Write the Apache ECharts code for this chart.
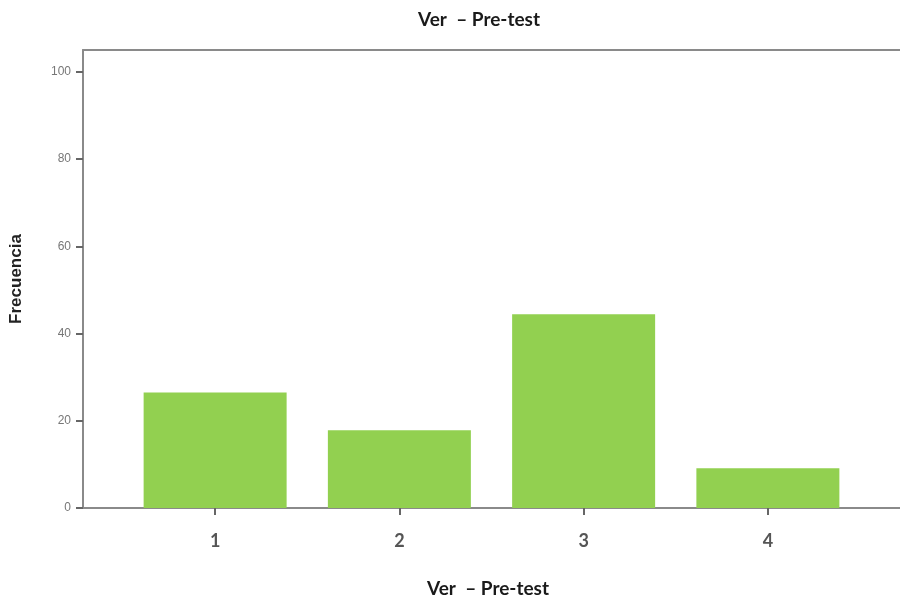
<!DOCTYPE html>
<html>
<head>
<meta charset="utf-8">
<script src="https://cdn.jsdelivr.net/npm/echarts@6/dist/echarts.min.js"></script>
<style>html,body{margin:0;padding:0;background:#fff}#c{width:900px;height:598px}</style>
</head>
<body>
<div id="c"></div>
<script>
const titleText = 'Ver  \u2013 Pre-test';
const xAxisTitle = 'Ver  \u2013 Pre-test';
const yAxisTitle = 'Frecuencia';
const categories = ['1', '2', '3', '4'];
const frecuencia = [26.5, 17.8, 44.4, 9.1];
const yTicks = [0, 20, 40, 60, 80, 100];

const chart = echarts.init(document.getElementById('c'));
const axisGray = '#8a8a8a';
const yMax = 105;
chart.setOption({
  backgroundColor: '#fff',
  animation: false,
  title: [
    { text: titleText, left: 474, top: 5, textAlign: 'center',
      textStyle: { fontFamily: 'Lato', fontWeight: 'bold', fontSize: 19, color: '#1a1a1a' } },
    { text: xAxisTitle, left: 483, top: 574, textAlign: 'center',
      textStyle: { fontFamily: 'Lato', fontWeight: 'bold', fontSize: 19, color: '#1a1a1a' } }
  ],
  grid: [
    { left: 83, right: 0, top: 50, bottom: 90 },
    { left: 123, right: 40, top: 50, bottom: 90 }
  ],
  xAxis: [
    { gridIndex: 0, type: 'value', min: 0, max: 1, position: 'bottom',
      axisLine: { show: true, lineStyle: { color: axisGray, width: 2 } },
      axisTick: { show: false }, axisLabel: { show: false }, splitLine: { show: false } },
    { gridIndex: 0, type: 'value', min: 0, max: 1, position: 'top',
      axisLine: { show: true, lineStyle: { color: axisGray, width: 2 } },
      axisTick: { show: false }, axisLabel: { show: false }, splitLine: { show: false } },
    { gridIndex: 1, type: 'category', data: categories, position: 'bottom',
      axisLine: { show: false },
      axisTick: { show: true, alignWithLabel: true, length: 7, lineStyle: { color: '#666', width: 2 } },
      axisLabel: { margin: 24, fontFamily: 'Lato', fontWeight: 'bold', fontSize: 18, color: '#555' } }
  ],
  yAxis: [
    { gridIndex: 0, type: 'value', min: 0, max: yMax, interval: 20,
      name: yAxisTitle, nameLocation: 'middle', nameGap: 58, nameRotate: 90,
      nameTextStyle: { fontFamily: 'Arial', fontWeight: 'bold', fontSize: 17, color: '#222' },
      axisLine: { show: true, lineStyle: { color: axisGray, width: 2 } },
      axisTick: { show: true, inside: false, length: 7, customValues: yTicks, lineStyle: { color: '#666', width: 2 } },
      axisLabel: { customValues: yTicks, margin: 12, fontFamily: 'Arial', fontSize: 12, color: '#777' },
      splitLine: { show: false } },
    { gridIndex: 1, type: 'value', min: 0, max: yMax, show: false, splitLine: { show: false } }
  ],
  series: [
    { type: 'bar', xAxisIndex: 2, yAxisIndex: 1, data: frecuencia, barWidth: 143,
      itemStyle: { color: '#92D050' } }
  ]
});
</script>
</body>
</html>
